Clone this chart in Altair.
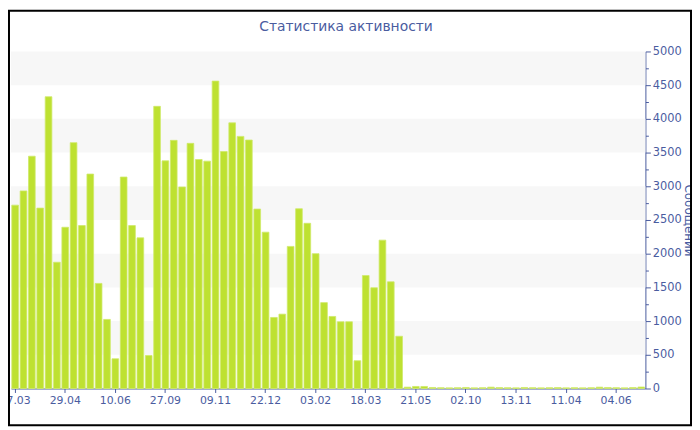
import json
import altair as alt
import pandas as pd

# --- data -------------------------------------------------------------
tick_labels = ["17.03", "29.04", "10.06", "27.09", "09.11", "22.12", "03.02",
               "18.03", "21.05", "02.10", "13.11", "11.04", "04.06"]
main_values = [2720, 2931, 3446, 2676, 4328, 1873, 2392, 3647, 2417, 3181,
               1559, 1025, 441, 3137, 2417, 2235, 490, 4186, 3377, 3681,
               2990, 3637, 3397, 3373, 4560, 3515, 3941, 3740, 3686, 2662,
               2319, 1054, 1103, 2108, 2667, 2451, 2000, 1274, 1069, 990,
               990, 412, 1676, 1495, 2201, 1583, 775]
tail_values = [20, 30, 30, 15, 12, 10, 12, 15, 10, 12, 20, 14, 12, 10, 15,
               12, 10, 12, 14, 10, 12, 10, 12, 20, 15, 12, 10, 14, 22]
values = main_values + tail_values
label_every = 6
band_lo = [500, 1500, 2500, 3500, 4500]
band_hi = [1000, 2000, 3000, 4000, 5000]
major_ticks = list(range(0, 5001, 500))
minor_ticks = list(range(250, 5000, 500))

df = pd.DataFrame({"idx": list(range(len(values))), "v": values})
bands = pd.DataFrame({"lo": band_lo, "hi": band_hi})

BLUE = "#4a5c9f"
FONT = "DejaVu Sans"
label_js = json.dumps(tick_labels)

yscale = alt.Scale(domain=[0, 5000], nice=False)

band_layer = alt.Chart(bands).mark_rect(color="#f7f7f7").encode(
    y=alt.Y("lo:Q", scale=yscale,
            axis=alt.Axis(orient="right", values=minor_ticks, labels=False,
                          domain=False, grid=False, tickSize=3, title=None,
                          tickColor=BLUE)),
    y2="hi:Q",
)

bar_layer = alt.Chart(df).mark_bar(color="#bee131", stroke="#cfe96a",
                                   strokeWidth=0.8).encode(
    x=alt.X("idx:O",
            scale=alt.Scale(paddingInner=0.2, paddingOuter=0.1),
            axis=alt.Axis(values=list(range(0, len(values), label_every)),
                          labelExpr=f"{label_js}[datum.value / {label_every}]",
                          labelAngle=0, title=None, tickSize=4,
                          labelPadding=2, domainColor=BLUE, tickColor=BLUE,
                          labelColor=BLUE, labelFont=FONT, labelFontSize=11,
                          grid=False)),
    y=alt.Y("v:Q", scale=yscale,
            axis=alt.Axis(orient="right", values=major_ticks, format="d",
                          title="Сообщений", titleColor=BLUE, titleFont=FONT,
                          titleFontSize=12, titleFontWeight="normal",
                          titleBaseline="alphabetic",
                          labelColor=BLUE, labelFont=FONT, labelFontSize=11.5,
                          domainColor=BLUE, tickColor=BLUE, tickSize=5,
                          labelPadding=2, grid=False, titleX=39, titleY=170)),
)

frame = alt.Chart(alt.Data(values=[{}])).mark_rect(
    filled=False, stroke="black", strokeWidth=2, clip=False).encode(
    x=alt.value(-2), x2=alt.value(686), y=alt.value(-41), y2=alt.value(377))

chart = alt.layer(band_layer, bar_layer, frame).resolve_axis(
    y="independent").properties(
    width=640, height=340,
    autosize=alt.AutoSizeParams(type="none"),
    padding={"left": 3, "top": 42, "right": 47, "bottom": 38},
    title=alt.TitleParams("Статистика активности", font=FONT, fontSize=14,
                          fontWeight="normal", color=BLUE, anchor="middle",
                          dx=18, dy=38, offset=14),
).configure_view(stroke=None)

chart.save("out.html", embed_options={"renderer": "svg", "actions": False})
